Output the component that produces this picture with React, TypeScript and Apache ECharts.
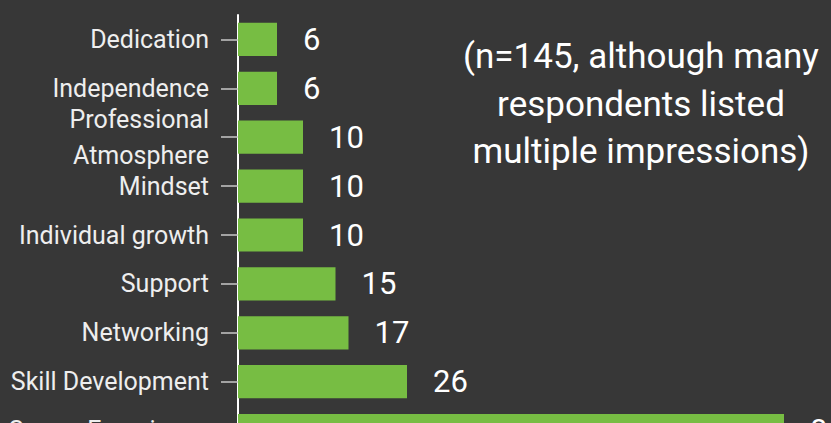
import React, { useEffect, useRef } from "react";
import * as echarts from "echarts";

const categories = [
  "Dedication",
  "Independence",
  "Professional\nAtmosphere",
  "Mindset",
  "Individual growth",
  "Support",
  "Networking",
  "Skill Development",
  "Career Experience",
];
const counts = [6, 6, 10, 10, 10, 15, 17, 26, 84];
const noteLines = ["(n=145, although many", "respondents listed", "multiple impressions)"];

export default function App() {
  const ref = useRef<HTMLDivElement>(null);
  useEffect(() => {
    if (!ref.current) return;
    const chart = echarts.init(ref.current, undefined, { renderer: "svg" });
    chart.setOption({
      animation: false,
      backgroundColor: "#373737",
      grid: { left: 238, top: 15, width: 650, height: 440 },
      xAxis: {
        type: "value",
        min: 0,
        max: 100,
        show: false,
        splitLine: { show: false },
      },
      yAxis: {
        type: "category",
        inverse: true,
        data: categories,
        axisLine: { show: true, lineStyle: { color: "#ffffff", width: 2 } },
        axisTick: {
          show: true,
          alignWithLabel: true,
          length: 17,
          lineStyle: { color: "#c8c8c8", width: 1.5 },
        },
        axisLabel: {
          color: "#eeeeee",
          fontFamily: "Roboto",
          fontSize: 25,
          margin: 29,
          lineHeight: 36,
          padding: [12, 0, 0, 0],
        },
      },
      series: [
        {
          type: "bar",
          data: counts,
          barCategoryGap: "32%",
          itemStyle: { color: "#77bd43" },
          label: {
            show: true,
            position: "right",
            distance: 26,
            color: "#ffffff",
            fontFamily: "Roboto",
            fontSize: 31,
          },
        },
      ],
      graphic: [
        {
          type: "text",
          left: 641 - 200,
          top: 33,
          style: {
            text: noteLines.join("\n"),
            x: 200,
            y: 0,
            width: 400,
            align: "center",
            textAlign: "center",
            fill: "#ffffff",
            fontFamily: "Roboto",
            fontSize: 35,
            lineHeight: 47.5,
          },
        },
      ],
    });
    return () => chart.dispose();
  }, []);
  return (
    <div
      style={{
        position: "fixed",
        left: 0,
        top: 0,
        width: 831,
        height: 423,
        overflow: "hidden",
        background: "#373737",
      }}
    >
      <div ref={ref} style={{ width: 900, height: 470 }} />
    </div>
  );
}
